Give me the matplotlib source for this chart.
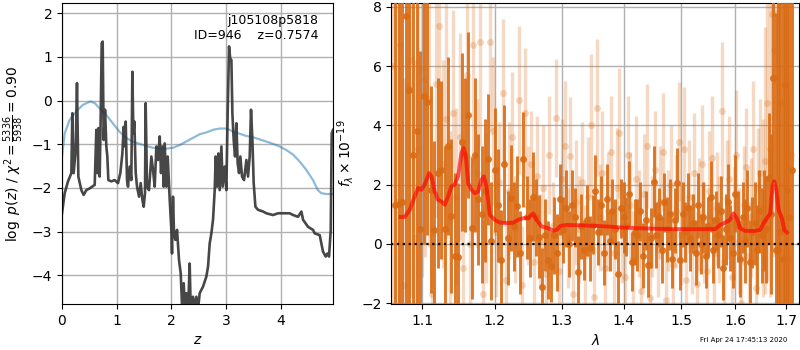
import numpy as np
import matplotlib
matplotlib.use("Agg")
import matplotlib.pyplot as plt
from matplotlib.ticker import FormatStrFormatter, NullLocator

# ---------------- left panel data: log p(z) ----------------
Z_PZ = [0.000, 0.049, 0.110, 0.171, 0.189, 0.213, 0.250, 0.274, 0.299, 0.354,
        0.396, 0.445, 0.506, 0.598, 0.628, 0.646, 0.665, 0.689, 0.707, 0.726,
        0.744, 0.762, 0.787, 0.811, 0.829, 0.848, 0.902, 0.963, 1.024, 1.067,
        1.104, 1.128, 1.146, 1.165, 1.189, 1.207, 1.238, 1.268, 1.287, 1.305,
        1.323, 1.348, 1.372, 1.409, 1.439, 1.470, 1.494, 1.518, 1.530, 1.555,
        1.591, 1.634, 1.665, 1.695, 1.726, 1.756, 1.787, 1.811, 1.835, 1.860,
        1.878, 1.909, 1.933, 1.970, 2.000, 2.012, 2.030, 2.049, 2.073, 2.104,
        2.140, 2.171, 2.201, 2.226, 2.250, 2.274, 2.305, 2.335, 2.354, 2.396,
        2.427, 2.457, 2.488, 2.518, 2.579, 2.640, 2.671, 2.701, 2.732, 2.762,
        2.793, 2.811, 2.835, 2.860, 2.884, 2.915, 2.939, 2.976, 3.006, 3.030,
        3.055, 3.079, 3.098, 3.116, 3.140, 3.165, 3.189, 3.213, 3.238, 3.262,
        3.293, 3.329, 3.372, 3.402, 3.433, 3.457, 3.482, 3.506, 3.537, 3.585,
        3.677, 3.738, 3.860, 3.951, 4.073, 4.165, 4.226, 4.317, 4.378, 4.409,
        4.500, 4.591, 4.622, 4.713, 4.744, 4.774, 4.823, 4.854, 4.884, 4.915,
        4.933, 4.957]
LOG_PZ = [-2.58, -2.12, -1.85, -1.66, -0.29, -1.66, -1.13, 0.40, -1.74, -2.05,
          -2.16, -2.05, -2.01, -1.93, -0.67, -1.66, -0.63, -1.74, -0.44, 1.31,
          1.35, -0.90, -0.21, -1.05, -1.28, -1.82, -1.85, -1.82, -1.89, -1.66,
          -1.21, -0.60, -1.05, -0.48, -1.82, -1.97, -1.51, -1.82, 0.66, -0.75,
          -0.48, -1.66, -1.97, -2.20, -1.89, -2.27, -2.43, -2.12, -0.06, -1.97,
          -2.05, -1.28, -1.59, -1.97, -1.05, -1.36, -0.82, -1.66, -1.05, -1.97,
          -0.98, -1.97, -1.28, -2.27, -2.96, -3.50, -2.20, -3.04, -3.19, -2.96,
          -3.65, -3.95, -4.87, -4.18, -4.87, -4.41, -4.87, -3.73, -4.79, -4.49,
          -4.79, -4.49, -4.79, -4.41, -4.26, -4.03, -3.80, -3.27, -3.04, -2.73,
          -2.05, -1.28, -1.97, -1.21, -2.05, -1.05, -1.97, -1.51, -2.05, -0.29,
          1.24, 0.93, 0.93, -0.29, -0.90, -1.28, -0.52, -1.44, -1.66, -1.28,
          -1.74, -1.82, -1.36, -1.74, -1.28, -0.21, -0.90, -1.89, -2.43, -2.50,
          -2.54, -2.58, -2.62, -2.58, -2.58, -2.58, -2.62, -2.66, -2.54, -2.73,
          -2.89, -2.96, -3.04, -3.08, -3.27, -3.46, -3.57, -3.50, -3.57, -2.96,
          -0.75, -0.67]

Z_PRIOR = [0.00, 0.05, 0.14, 0.26, 0.38, 0.52, 0.60, 0.69, 0.81, 0.93,
           1.05, 1.18, 1.30, 1.42, 1.54, 1.66, 1.79, 1.91, 2.03, 2.15,
           2.27, 2.40, 2.52, 2.64, 2.76, 2.88, 3.01, 3.13, 3.25, 3.37,
           3.49, 3.62, 3.74, 3.86, 3.98, 4.10, 4.23, 4.35, 4.47, 4.59,
           4.68, 4.74, 4.84, 4.96]
LOG_PRIOR = [-1.28, -0.75, -0.44, -0.25, -0.10, -0.02, -0.06, -0.18, -0.33, -0.52,
             -0.71, -0.86, -0.94, -0.99, -1.04, -1.08, -1.10, -1.10, -1.08, -1.02,
             -0.94, -0.85, -0.77, -0.73, -0.67, -0.64, -0.64, -0.71, -0.76, -0.81,
             -0.84, -0.89, -0.94, -0.99, -1.05, -1.13, -1.24, -1.40, -1.59, -1.82,
             -2.05, -2.12, -2.14, -2.14]

# ---------------- right panel data: spectrum ----------------
WAVE_DARK_RANGE = (1.0650, 1.7114)
FLUX_DARK = [1.30, 1.36, 1.42, 7.70, 5.20, 3.00, 3.80, 0.50, 5.00, 4.80,
             1.83, 0.47, 2.40, 2.50, 0.50, 3.30, 0.93, -0.40, -0.45, 3.45,
             3.00, 4.35, 0.53, 3.00, 1.50, 1.00, 1.80, 2.85, 0.10, 2.50,
             1.30, -0.54, 2.70, 0.20, 1.55, 0.60, 1.27, -0.30, 2.85, 0.90,
             0.20, 1.60, 0.90, 0.25, -1.44, 0.30, -0.54, -0.76, 0.30, -0.30,
             1.50, 0.47, 1.20, 0.00, 1.30, 0.90, -0.93, 0.60, -0.20, 0.80,
             -0.15, 0.65, 1.80, 0.40, 1.30, -0.30, 1.50, 0.10, 1.10, 0.50,
             -1.00, 1.20, 0.90, 0.60, 1.70, -0.60, 0.40, 0.30, 1.10, -0.40,
             0.80, -0.70, 0.20, 2.10, 0.30, 0.90, -0.20, 1.40, 0.50, 1.00,
             -0.50, 0.80, 2.05, -0.55, 1.00, 0.40, 1.20, 0.20, 0.70, -0.30,
             1.30, 0.00, 0.90, -0.40, 0.60, 1.60, -0.20, 0.80, 0.30, 1.10,
             -0.80, 0.50, 1.40, 0.20, -0.30, 1.70, 0.60, -0.50, 0.90, 0.10,
             1.20, -0.60, 0.40, 0.70, -0.20, 1.10, 0.30, 0.80, 0.50, 2.22,
             1.00, 5.60, -0.20, -0.20, 0.40, -0.50, 5.35, 1.83, 0.90, 2.50]
ERR_DARK = [12, 10, 9, 10, 8, 7, 8, 6, 5, 4.5,
            3.5, 3, 3.2, 3, 2.8, 3, 2.6, 2.8, 2.5, 3,
            2.6, 2.8, 2.4, 2.6, 2.2, 2.3, 2.4, 2.2, 2.0, 2.1,
            1.9, 1.7, 2.0, 1.6, 1.8, 1.5, 1.7, 1.4, 1.6, 1.4,
            1.3, 1.5, 1.3, 1.4, 1.3, 1.2, 1.3, 1.2, 1.3, 1.3,
            1.2, 1.1, 1.3, 1.1, 1.2, 1.0, 1.2, 1.1, 1.0, 1.2,
            1.1, 1.0, 1.2, 1.1, 1.0, 1.1, 1.2, 1.0, 1.1, 1.0,
            1.1, 1.0, 1.2, 1.0, 1.1, 1.0, 1.1, 1.2, 1.0, 1.1,
            1.0, 1.1, 1.0, 1.2, 1.1, 1.0, 1.1, 1.0, 1.1, 1.2,
            1.0, 1.1, 1.2, 1.0, 1.1, 1.0, 1.2, 1.1, 1.0, 1.1,
            1.1, 1.0, 1.2, 1.1, 1.0, 1.2, 1.1, 1.0, 1.1, 1.2,
            1.1, 1.2, 1.3, 1.1, 1.2, 1.3, 1.2, 1.3, 1.2, 1.4,
            1.3, 1.4, 1.2, 1.4, 1.5, 1.4, 1.6, 1.7, 1.8, 2.2,
            2.7, 3.5, 8, 10, 12, 9, 14, 15, 12, 10]

WAVE_LIGHT_RANGE = (1.0625, 1.7089)
FLUX_LIGHT = [6.00, 1.40, 6.70, -1.40, 5.30, 6.20, 0.20, 3.20, 5.90, 5.55,
              4.90, -1.70, 5.40, 7.35, 2.70, 4.20, 0.80, 4.40, 1.60, 3.60,
              -0.80, 5.70, 0.00, 6.70, 2.40, 6.80, -1.70, 1.20, 6.80, 3.80,
              0.40, 2.10, 5.10, -1.20, 1.80, 3.60, 0.50, 4.85, -1.40, 4.40,
              1.30, 2.70, -0.60, 2.30, 0.10, 1.90, -1.00, 3.00, 0.60, 4.25,
              -0.90, 2.20, 3.30, 0.20, 2.95, -1.70, 1.40, 0.50, 2.10, -0.40,
              1.60, 4.00, -1.80, 4.60, 0.90, 2.40, -0.80, 1.10, 3.10, -0.30,
              1.90, 3.75, 0.40, -1.10, 3.00, 1.30, -0.50, 2.20, 0.70, -1.60,
              1.70, 3.30, -1.83, 0.60, 2.50, -0.20, 1.40, 3.10, -1.90, 0.80,
              2.00, -0.70, 1.10, 3.45, 0.30, 3.20, -1.20, 1.60, 0.00, 2.40,
              -1.35, 1.00, 2.70, 0.40, -0.90, 1.80, 2.90, -0.30, 1.20, 0.50,
              4.50, -0.60, 1.50, 2.20, -1.10, 0.70, 3.00, 0.10, -2.00, 1.30,
              2.60, -0.40, 0.90, 3.20, -1.50, 1.90, 2.40, 1.20, 2.80, 4.75,
              3.20, 7.75, 6.55, 7.80, 4.80, 4.75, 2.00, 4.60, -0.50, 3.00]
ERR_LIGHT = [9, 8, 9, 7, 8, 8, 6, 6, 7, 6,
             5, 4, 4.5, 5, 3.5, 4, 3, 3.5, 3, 3.5,
             3, 3.5, 3, 4, 2.5, 3.5, 2.5, 2.5, 3, 2.5,
             2.2, 2.0, 2.5, 2.0, 2.3, 2.2, 1.8, 2.5, 2.0, 2.2,
             2.0, 1.8, 2.2, 2.0, 1.6, 2.1, 1.8, 2.0, 1.5, 2.0,
             1.8, 2.0, 2.2, 1.7, 2.0, 1.6, 2.1, 1.8, 2.0, 1.7,
             2.0, 2.4, 1.7, 2.3, 1.8, 2.1, 1.6, 2.0, 1.9, 1.7,
             2.0, 2.2, 1.7, 1.9, 2.0, 1.8, 1.6, 2.1, 1.8, 1.7,
             2.0, 2.1, 1.8, 1.7, 2.0, 1.6, 1.9, 2.0, 1.8, 1.7,
             2.0, 1.8, 1.9, 2.0, 1.7, 2.1, 1.8, 1.9, 1.7, 2.0,
             1.8, 1.9, 2.0, 1.7, 1.8, 2.0, 2.1, 1.7, 1.9, 1.8,
             2.3, 1.8, 2.0, 2.1, 1.8, 1.9, 2.2, 1.8, 2.0, 2.0,
             2.0, 1.8, 2.0, 2.3, 2.2, 2.0, 2.5, 3.0, 4.5, 6,
             5, 8, 7, 9, 8, 9, 7, 8, 6, 6]

WAVE_MODEL = [1.0723, 1.0775, 1.0839, 1.0904, 1.0948, 1.0992, 1.1035, 1.1093, 1.1124, 1.1168,
              1.1213, 1.1258, 1.1303, 1.1348, 1.1393, 1.1439, 1.1485, 1.1531, 1.1563, 1.1591,
              1.1623, 1.1670, 1.1716, 1.1763, 1.1810, 1.1843, 1.1881, 1.1929, 1.2000, 1.2072,
              1.2169, 1.2267, 1.2340, 1.2415, 1.2489, 1.2539, 1.2564, 1.2614, 1.2690, 1.2792,
              1.2869, 1.2920, 1.2982, 1.3076, 1.3287, 1.3500, 1.3718, 1.3995, 1.4277, 1.4564,
              1.4857, 1.5157, 1.5462, 1.5615, 1.5709, 1.5803, 1.5898, 1.5962, 1.6026, 1.6090,
              1.6187, 1.6349, 1.6480, 1.6547, 1.6613, 1.6679, 1.6726, 1.6759, 1.6800, 1.6847,
              1.6914, 1.6961, 1.7015]
FLUX_MODEL = [0.91, 0.91, 1.15, 1.60, 1.89, 1.83, 2.00, 2.39, 2.28, 1.77,
              1.49, 1.43, 1.32, 1.60, 1.94, 2.00, 2.28, 3.07, 3.24, 2.95,
              2.05, 1.83, 1.71, 1.77, 2.17, 2.28, 1.94, 0.98, 0.81, 0.72,
              0.70, 0.72, 0.81, 0.87, 0.87, 0.98, 1.03, 0.81, 0.59, 0.53,
              0.45, 0.47, 0.61, 0.64, 0.63, 0.61, 0.59, 0.55, 0.53, 0.51,
              0.50, 0.50, 0.50, 0.50, 0.64, 0.72, 0.81, 1.03, 0.87, 0.53,
              0.44, 0.44, 0.47, 0.70, 0.87, 1.03, 1.94, 2.11, 1.83, 1.15,
              0.87, 0.47, 0.39]

XTICKS_R = [1.1, 1.2, 1.3, 1.4, 1.5, 1.6, 1.7]
TITLE_TEXT = "j105108p5818\nID=946    z=0.7574"
STAMP = "Fri Apr 24 17:45:13 2020"

# ---------------- figure ----------------
fig = plt.figure(figsize=(8, 3.5), dpi=100)
ax1 = fig.add_axes([0.0775, 0.131, 0.339, 0.860])
ax2 = fig.add_axes([0.489, 0.131, 0.510, 0.860])

ax1.plot(Z_PRIOR, LOG_PRIOR, color='tab:blue', alpha=0.5, lw=1.6)
ax1.plot(Z_PZ, LOG_PZ, color='#333333', alpha=0.9, lw=1.9)
ax1.set_xlim(0, 4.96)
ax1.set_ylim(-4.66, 2.23)
ax1.set_xticks([0, 1, 2, 3, 4])
ax1.set_yticks([-4, -3, -2, -1, 0, 1, 2])
ax1.grid(True, color='#b0b0b0', lw=1)
ax1.set_axisbelow(True)
ax1.set_xlabel(r'$z$')
ax1.set_ylabel(r'$\log\ p(z)$ / $\chi^2=\frac{5336}{5938}=0.90$')
ax1.text(0.945, 0.965, TITLE_TEXT, transform=ax1.transAxes, ha='right', va='top',
         fontsize=9, multialignment='right')

wave_d = np.linspace(WAVE_DARK_RANGE[0], WAVE_DARK_RANGE[1], len(FLUX_DARK))
wave_l = np.linspace(WAVE_LIGHT_RANGE[0], WAVE_LIGHT_RANGE[1], len(FLUX_LIGHT))
orange = (0.85, 0.42, 0.08)

ax2.errorbar(wave_l, FLUX_LIGHT, yerr=ERR_LIGHT, fmt='o', color=orange, alpha=0.25,
             ms=5, mew=0, elinewidth=2.4, capsize=0, zorder=2)
ax2.errorbar(wave_d, FLUX_DARK, yerr=ERR_DARK, fmt='o', color=orange, alpha=0.9,
             ms=5, mew=0, elinewidth=2.1, capsize=0, zorder=3)
ax2.plot(WAVE_MODEL, FLUX_MODEL, color='red', alpha=0.65, lw=2.8, zorder=4)
ax2.axhline(0, color='k', linestyle=':', lw=1.6, zorder=5)

ax2.set_xscale('log')
ax2.set_xlim(1.0602, 1.7267)
ax2.set_ylim(-2.03, 8.12)
ax2.set_xticks(XTICKS_R)
ax2.xaxis.set_major_formatter(FormatStrFormatter('%.1f'))
ax2.xaxis.set_minor_locator(NullLocator())
ax2.set_yticks([-2, 0, 2, 4, 6, 8])
ax2.grid(True, color='#b0b0b0', lw=1)
ax2.set_axisbelow(True)
ax2.set_xlabel(r'$\lambda$')
ax2.set_ylabel(r'$f_\lambda\times10^{-19}$')

fig.text(0.984, 0.028, STAMP, ha='right', va='center', fontsize=5)

fig.savefig('out.png', dpi=100)
